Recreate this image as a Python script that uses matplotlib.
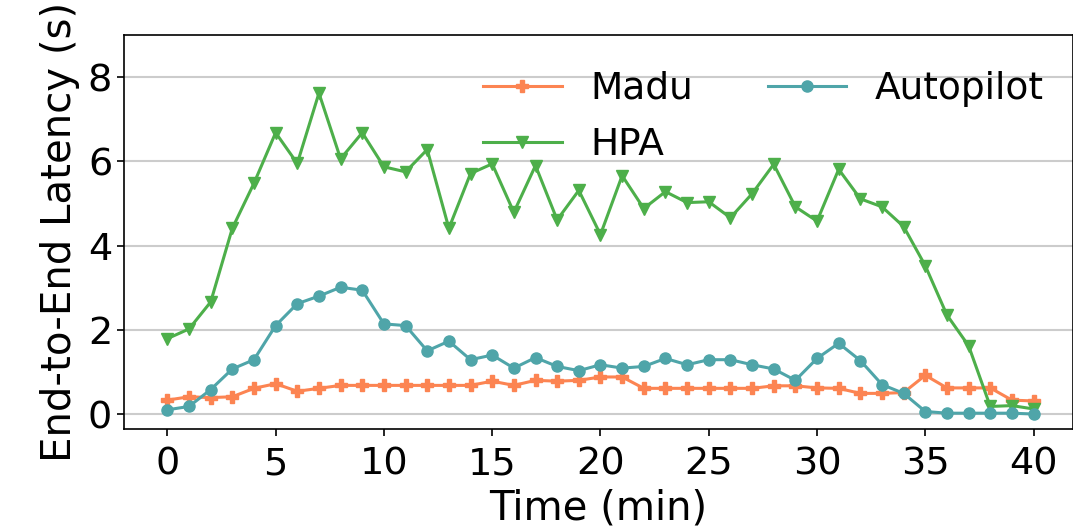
import matplotlib
matplotlib.use("Agg")
import matplotlib.pyplot as plt

time_min = list(range(41))

madu = [0.33, 0.41, 0.39, 0.41, 0.61, 0.72, 0.54, 0.61, 0.68, 0.68,
        0.68, 0.68, 0.68, 0.68, 0.68, 0.78, 0.68, 0.80, 0.78, 0.80,
        0.88, 0.88, 0.61, 0.61, 0.61, 0.61, 0.61, 0.61, 0.67, 0.67,
        0.62, 0.61, 0.49, 0.49, 0.51, 0.92, 0.62, 0.62, 0.62, 0.33, 0.31]

hpa = [1.79, 2.02, 2.66, 4.41, 5.48, 6.68, 5.95, 7.62, 6.06, 6.68,
       5.87, 5.75, 6.28, 4.41, 5.71, 5.94, 4.79, 5.90, 4.61, 5.31,
       4.26, 5.66, 4.88, 5.28, 5.02, 5.04, 4.66, 5.23, 5.93, 4.92,
       4.58, 5.81, 5.11, 4.92, 4.45, 3.52, 2.35, 1.62, 0.18, 0.20, 0.12]

autopilot = [0.10, 0.18, 0.58, 1.07, 1.29, 2.10, 2.62, 2.80, 3.01, 2.94,
             2.14, 2.10, 1.50, 1.73, 1.29, 1.40, 1.09, 1.34, 1.13, 1.03,
             1.17, 1.09, 1.13, 1.32, 1.17, 1.29, 1.29, 1.17, 1.07, 0.80,
             1.32, 1.68, 1.27, 0.70, 0.49, 0.06, 0.02, 0.02, 0.02, 0.02, 0.00]

x_ticks = [0, 5, 10, 15, 20, 25, 30, 35, 40]
y_ticks = [0, 2, 4, 6, 8]

fig = plt.figure(figsize=(10.73, 5.30), dpi=100)
ax = fig.add_axes([0.1156, 0.191, 0.884, 0.743])

ax.plot(time_min, madu, color="#FC8452", marker="P", markersize=8, linewidth=2.2, label="Madu")
ax.plot(time_min, hpa, color="#4DAF4A", marker="v", markersize=9, linewidth=2.2, label="HPA")
ax.plot(time_min, autopilot, color="#4FA5A9", marker="o", markersize=8, linewidth=2.2, label="Autopilot")

ax.set_xlim(-2, 41.8)
ax.set_ylim(-0.35, 9.0)
ax.set_xticks(x_ticks)
ax.set_yticks(y_ticks)
ax.yaxis.grid(True, color="#cccccc", linewidth=1.5)
ax.set_axisbelow(True)
ax.tick_params(axis="both", labelsize=27.5, length=5, width=1.2)
ax.tick_params(axis="x", pad=8)
for s in ax.spines.values():
    s.set_linewidth(1.2)

ax.set_xlabel("Time (min)", fontsize=29, labelpad=4)
ax.set_ylabel("End-to-End Latency (s)", fontsize=29, labelpad=6)

handles, labels = ax.get_legend_handles_labels()
ax.legend(handles, labels, ncol=2, frameon=False, fontsize=27, loc="upper right",
          bbox_to_anchor=(1.005, 0.995), columnspacing=2.0, handlelength=2.1,
          labelspacing=0.55, handletextpad=0.75)

fig.savefig("out.png", dpi=100)
